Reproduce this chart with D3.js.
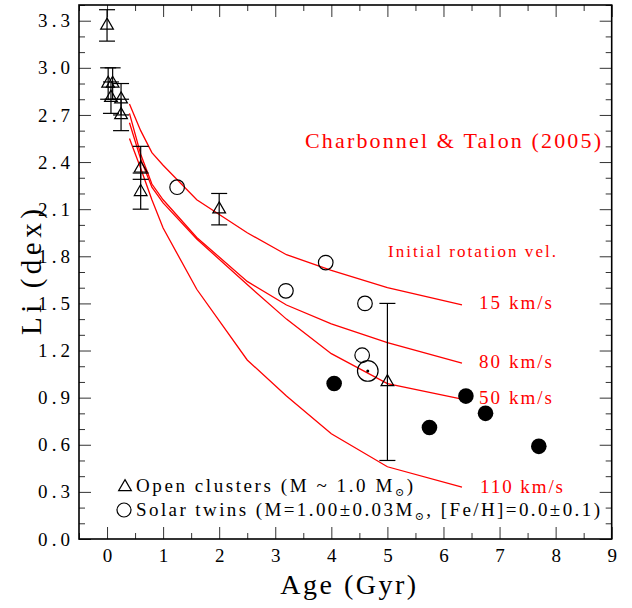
<!DOCTYPE html>
<html>
<head>
<meta charset="utf-8">
<script src="https://cdn.jsdelivr.net/npm/d3@7"></script>
<style>
  html, body { margin: 0; padding: 0; background: #fff; }
  svg { display: block; }
</style>
</head>
<body>
<div id="chart"></div>
<script>
// ---------------- data ----------------
const xMajorTicks = [0, 1, 2, 3, 4, 5, 6, 7, 8, 9];
const xMinorTicks = [-0.5, 0.5, 1.5, 2.5, 3.5, 4.5, 5.5, 6.5, 7.5, 8.5];
const yMajorTicks = [0.0, 0.3, 0.6, 0.9, 1.2, 1.5, 1.8, 2.1, 2.4, 2.7, 3.0, 3.3];
const yMinorTicks = [0.1, 0.2, 0.4, 0.5, 0.7, 0.8, 1.0, 1.1, 1.3, 1.4, 1.6, 1.7, 1.9, 2.0, 2.2, 2.3, 2.5, 2.6, 2.8, 2.9, 3.1, 3.2, 3.4];

// open clusters (triangles) with error bars
const clusterAge   = [0.0, 0.02, 0.10, 0.07, 0.25, 0.25, 0.60, 0.60, 2.00, 5.00];
const clusterLi    = [3.27, 2.90, 2.90, 2.81, 2.80, 2.70, 2.36, 2.21, 2.10, 1.00];
const clusterErrLo = [0.10, 0.10, 0.10, 0.10, 0.10, 0.10, 0.07, 0.11, 0.10, 0.50];
const clusterErrHi = [0.10, 0.10, 0.10, 0.10, 0.10, 0.10, 0.14, 0.12, 0.10, 0.50];

// solar twins, open circles
const twinOpenAge = [1.25, 3.19, 3.90, 4.60, 4.55];
const twinOpenLi  = [2.24, 1.58, 1.76, 1.50, 1.17];
// solar twins, filled circles
const twinFilledAge = [4.05, 5.75, 6.40, 6.75, 7.70];
const twinFilledLi  = [0.99, 0.71, 0.91, 0.80, 0.59];
// the Sun
const sunAge = [4.65];
const sunLi  = [1.07];

// Charbonnel & Talon (2005) models
const modelAges = [0.4, 0.6, 0.8, 1.0, 1.6, 2.5, 3.2, 4.0, 5.0, 6.33];
const model15  = [2.77, 2.60, 2.46, 2.38, 2.16, 1.95, 1.81, 1.71, 1.60, 1.49];
const model80  = [2.71, 2.45, 2.26, 2.16, 1.92, 1.64, 1.49, 1.37, 1.25, 1.12];
const model50  = [2.65, 2.42, 2.24, 2.14, 1.91, 1.62, 1.40, 1.18, 0.99, 0.89];
const model110 = [2.55, 2.36, 2.16, 1.98, 1.59, 1.14, 0.91, 0.67, 0.46, 0.33];
const modelLabels = ["15 km/s", "80 km/s", "50 km/s", "110 km/s"];

// ---------------- drawing ----------------
const W = 632, H = 608;
const pLeft = 79, pRight = 611.7, pTop = 5, pBottom = 539;
const RED = "#ff0000";
const FONT = "'Liberation Serif', 'DejaVu Serif', serif";

const svg = d3.select("#chart").append("svg")
  .attr("width", W).attr("height", H)
  .attr("font-family", FONT);

const x = d3.scaleLinear().domain([-0.5, 9]).range([pLeft, pRight]);
const y = d3.scaleLinear().domain([0, 3.4]).range([pBottom, pTop]);

// axes (ticks pointing inward on all four sides)
function styleAxis(g) {
  g.select(".domain").remove();
  g.selectAll(".tick line").attr("stroke", "#333").attr("stroke-width", 1);
}
svg.append("g").attr("transform", `translate(0,${pBottom})`)
  .call(d3.axisBottom(x).tickValues(xMajorTicks).tickSize(-12).tickPadding(10).tickFormat(d3.format("d")))
  .call(styleAxis)
  .call(g => g.selectAll("text").attr("font-size", 19).attr("font-family", FONT).attr("fill", "#000"));
svg.append("g").attr("transform", `translate(0,${pBottom})`)
  .call(d3.axisBottom(x).tickValues(xMinorTicks).tickSize(-6).tickFormat(""))
  .call(styleAxis);
svg.append("g").attr("transform", `translate(0,${pTop})`)
  .call(d3.axisTop(x).tickValues(xMajorTicks).tickSize(-12).tickFormat(""))
  .call(styleAxis);
svg.append("g").attr("transform", `translate(0,${pTop})`)
  .call(d3.axisTop(x).tickValues(xMinorTicks).tickSize(-6).tickFormat(""))
  .call(styleAxis);

svg.append("g").attr("transform", `translate(${pLeft},0)`)
  .call(d3.axisLeft(y).tickValues(yMajorTicks).tickSize(-12).tickPadding(9).tickFormat(d3.format(".1f")))
  .call(styleAxis)
  .call(g => g.selectAll("text").attr("font-size", 19).attr("font-family", FONT).attr("fill", "#000")
    .attr("textLength", 32).attr("lengthAdjust", "spacing"));
svg.append("g").attr("transform", `translate(${pLeft},0)`)
  .call(d3.axisLeft(y).tickValues(yMinorTicks).tickSize(-6).tickFormat(""))
  .call(styleAxis);
svg.append("g").attr("transform", `translate(${pRight},0)`)
  .call(d3.axisRight(y).tickValues(yMajorTicks).tickSize(-12).tickFormat(""))
  .call(styleAxis);
svg.append("g").attr("transform", `translate(${pRight},0)`)
  .call(d3.axisRight(y).tickValues(yMinorTicks).tickSize(-6).tickFormat(""))
  .call(styleAxis);

// frame
svg.append("rect")
  .attr("x", pLeft).attr("y", pTop)
  .attr("width", pRight - pLeft).attr("height", pBottom - pTop)
  .attr("fill", "none").attr("stroke", "#000").attr("stroke-width", 1.6);

// axis titles
svg.append("text")
  .attr("x", x(4.3)).attr("y", 594)
  .attr("text-anchor", "middle")
  .attr("font-size", 28)
  .attr("textLength", 136).attr("lengthAdjust", "spacing")
  .text("Age (Gyr)");
svg.append("text")
  .attr("transform", `translate(41,${y(1.70)}) rotate(-90)`)
  .attr("text-anchor", "middle")
  .attr("font-size", 29)
  .attr("textLength", 126).attr("lengthAdjust", "spacing")
  .text("Li (dex)");

// model curves
const models = [model15, model80, model50, model110];
const line = d3.line().x((d, i) => x(modelAges[i])).y(d => y(d));
svg.append("g").selectAll("path").data(models).join("path")
  .attr("d", d => line(d))
  .attr("fill", "none").attr("stroke", RED).attr("stroke-width", 1.3);

// model labels
const labelLi = [1.50, 1.13, 0.90, 0.33];
svg.append("g").selectAll("text").data(modelLabels).join("text")
  .attr("x", (d, i) => i === 3 ? 480 : 479)
  .attr("y", (d, i) => y(labelLi[i]) + 6)
  .attr("fill", RED).attr("font-size", 19)
  .attr("textLength", (d, i) => i === 3 ? 83 : 73).attr("lengthAdjust", "spacing")
  .text(d => d);

svg.append("text")
  .attr("x", 388).attr("y", 257)
  .attr("fill", RED).attr("font-size", 17)
  .attr("textLength", 168).attr("lengthAdjust", "spacing")
  .text("Initial rotation vel.");
svg.append("text")
  .attr("x", 305).attr("y", 148)
  .attr("fill", RED).attr("font-size", 22)
  .attr("textLength", 296).attr("lengthAdjust", "spacing")
  .text("Charbonnel & Talon (2005)");

// error bars for clusters
const capW = 8;
const eb = svg.append("g").attr("stroke", "#000").attr("stroke-width", 1.2);
clusterAge.forEach((a, i) => {
  const cx = x(a), y0 = y(clusterLi[i] - clusterErrLo[i]), y1 = y(clusterLi[i] + clusterErrHi[i]);
  eb.append("line").attr("x1", cx).attr("x2", cx).attr("y1", y0).attr("y2", y1);
  eb.append("line").attr("x1", cx - capW).attr("x2", cx + capW).attr("y1", y0).attr("y2", y0);
  eb.append("line").attr("x1", cx - capW).attr("x2", cx + capW).attr("y1", y1).attr("y2", y1);
});

// triangles
const tri = d3.symbol().type(d3.symbolTriangle).size(70);
svg.append("g").selectAll("path").data(clusterAge).join("path")
  .attr("d", tri)
  .attr("transform", (d, i) => `translate(${x(d)},${y(clusterLi[i])})`)
  .attr("fill", "none").attr("stroke", "#000").attr("stroke-width", 1.2);

// open circles
svg.append("g").selectAll("circle").data(twinOpenAge).join("circle")
  .attr("cx", d => x(d)).attr("cy", (d, i) => y(twinOpenLi[i])).attr("r", 7.3)
  .attr("fill", "none").attr("stroke", "#000").attr("stroke-width", 1.2);

// the Sun
svg.append("g").selectAll("circle").data(sunAge).join("circle")
  .attr("cx", d => x(d)).attr("cy", (d, i) => y(sunLi[i])).attr("r", 10.3)
  .attr("fill", "none").attr("stroke", "#000").attr("stroke-width", 1.2);
svg.append("g").selectAll("circle").data(sunAge).join("circle")
  .attr("cx", d => x(d)).attr("cy", (d, i) => y(sunLi[i])).attr("r", 1.5)
  .attr("fill", "#000");

// filled circles
svg.append("g").selectAll("circle").data(twinFilledAge).join("circle")
  .attr("cx", d => x(d)).attr("cy", (d, i) => y(twinFilledLi[i])).attr("r", 7.8)
  .attr("fill", "#000");

// legend
const lg = svg.append("g");
lg.append("path").attr("d", d3.symbol().type(d3.symbolTriangle).size(70))
  .attr("transform", "translate(125,487)")
  .attr("fill", "none").attr("stroke", "#000").attr("stroke-width", 1.2);
lg.append("circle").attr("cx", 124).attr("cy", 510).attr("r", 7)
  .attr("fill", "none").attr("stroke", "#000").attr("stroke-width", 1.2);

const t1 = lg.append("text").attr("x", 136).attr("y", 492).attr("font-size", 19)
  .attr("textLength", 277).attr("lengthAdjust", "spacing");
t1.append("tspan").text("Open clusters (M ~ 1.0 M");
t1.append("tspan").attr("font-size", 11).attr("dy", 4).text("⊙");
t1.append("tspan").attr("dy", -4).text(")");

const t2 = lg.append("text").attr("x", 136).attr("y", 516).attr("font-size", 19)
  .attr("textLength", 464).attr("lengthAdjust", "spacing");
t2.append("tspan").text("Solar twins (M=1.00±0.03M");
t2.append("tspan").attr("font-size", 11).attr("dy", 4).text("⊙");
t2.append("tspan").attr("dy", -4).text(", [Fe/H]=0.0±0.1)");
</script>
</body>
</html>
